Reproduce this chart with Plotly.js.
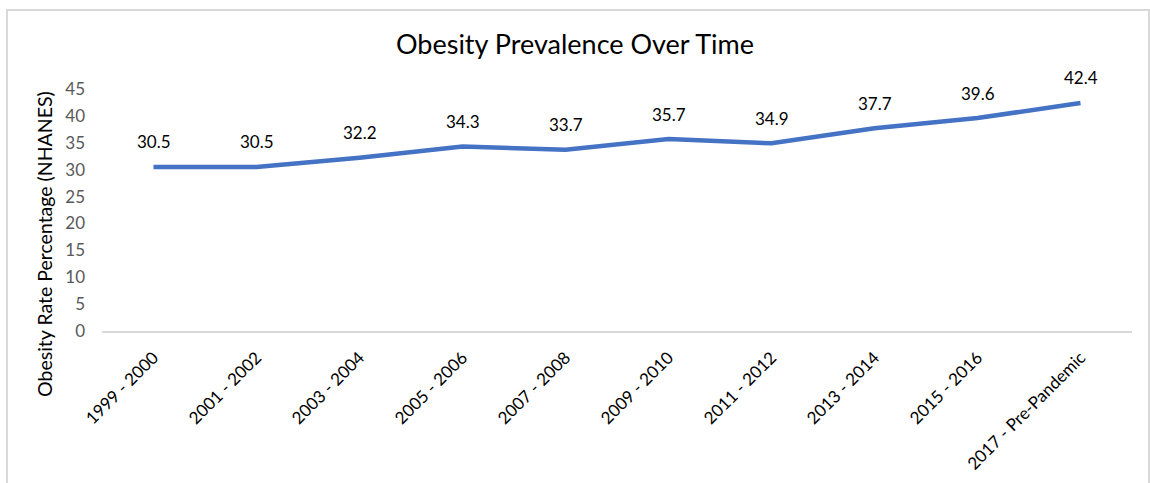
<!DOCTYPE html>
<html>
<head>
<meta charset="utf-8">
<script src="https://cdn.plot.ly/plotly-3.0.1.min.js"></script>
<style>
html,body{margin:0;padding:0;background:#fff;}
#wrap{position:relative;width:1150px;height:483px;}
#chart{width:1150px;height:483px;}
#frame{position:absolute;left:6px;top:9px;width:1140px;height:472px;border:2px solid #d9d9d9;pointer-events:none;}
</style>
</head>
<body>
<div id="wrap">
<div id="chart"></div>
<div id="frame"></div>
</div>
<script>
const categories = ["1999 - 2000","2001 - 2002","2003 - 2004","2005 - 2006","2007 - 2008","2009 - 2010","2011 - 2012","2013 - 2014","2015 - 2016","2017 - Pre-Pandemic"];
const obesityRates = [30.5,30.5,32.2,34.3,33.7,35.7,34.9,37.7,39.6,42.4];
const yTicks = [0,5,10,15,20,25,30,35,40,45];
const yAxisTitle = 'Obesity Rate Percentage (NHANES)';
const chartTitle = 'Obesity Prevalence Over Time';

const FONT = "Lato, 'Open Sans', sans-serif";

const trace = {
  x: categories,
  y: obesityRates,
  type: 'scatter',
  mode: 'lines',
  line: {color: '#4472C4', width: 4.5},
  hoverinfo: 'x+y'
};

const annotations = categories.map((c, i) => ({
  x: c, y: obesityRates[i], text: obesityRates[i].toFixed(1),
  showarrow: false, yshift: 25, xref: 'x', yref: 'y',
  font: {family: FONT, size: 17, color: '#000'}
}));
annotations.push({
  text: yAxisTitle, textangle: -90, showarrow: false,
  xref: 'paper', yref: 'paper', x: -0.0553, y: 0.36,
  xanchor: 'center', yanchor: 'middle',
  font: {family: FONT, size: 19.5, color: '#000'}
});

const layout = {
  width: 1150, height: 483,
  margin: {l: 102, r: 18, t: 89, b: 152},
  paper_bgcolor: '#fff', plot_bgcolor: '#fff',
  showlegend: false,
  title: {text: chartTitle, x: 0.5, xanchor: 'center', y: 0.907, yanchor: 'middle',
          font: {family: FONT, size: 27, color: '#000'}},
  xaxis: {
    type: 'category', range: [-0.5, 9.5],
    showgrid: false, zeroline: false,
    showline: true, linecolor: '#d9d9d9', linewidth: 2,
    ticks: '', tickangle: -45, ticklabelstandoff: 8,
    tickfont: {family: FONT, size: 17, color: '#000'}
  },
  yaxis: {
    range: [0, 45], tickvals: yTicks, ticktext: yTicks.map(String),
    showgrid: false, zeroline: false, showline: false, ticks: '',
    ticklabelstandoff: 16,
    tickfont: {family: FONT, size: 17, color: '#595959'}
  },
  annotations: annotations
};

Plotly.newPlot('chart', [trace], layout, {displayModeBar: false, staticPlot: true});
</script>
</body>
</html>
